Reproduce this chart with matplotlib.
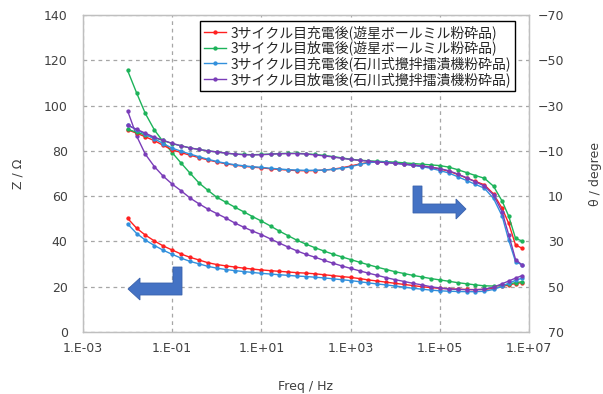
import math
import matplotlib
matplotlib.use("Agg")
import matplotlib.pyplot as plt
from matplotlib.patches import Polygon
from matplotlib.ticker import FixedLocator, FuncFormatter, NullLocator

# measurement frequencies (Hz)
freq = [0.01, 0.016, 0.025, 0.04, 0.063,
        0.1, 0.16, 0.25, 0.4, 0.63,
        1, 1.6, 2.5, 4, 6.3,
        10, 16, 25, 40, 63,
        100, 160, 250, 400, 630,
        1e3, 1.6e3, 2.5e3, 4e3, 6.3e3,
        1e4, 1.6e4, 2.5e4, 4e4, 6.3e4,
        1e5, 1.6e5, 2.5e5, 4e5, 6.3e5,
        1e6, 1.6e6, 2.5e6, 3.5e6, 5e6, 7e6]

labels = ["3サイクル目充電後(遊星ボールミル粉砕品)",
          "3サイクル目放電後(遊星ボールミル粉砕品)",
          "3サイクル目充電後(石川式攪拌擂潰機粉砕品)",
          "3サイクル目放電後(石川式攪拌擂潰機粉砕品)"]
colors = ["#ff2020", "#1db35a", "#3290dc", "#7a3db8"]

# |Z| in ohm
z_red = [50.2, 45.8, 42.8, 40.2, 38.0, 36.2, 34.4, 33.0, 31.8, 30.6,
         29.8, 29.2, 28.7, 28.2, 27.8, 27.4, 27.1, 26.8, 26.5, 26.2,
         26.0, 25.7, 25.3, 24.9, 24.5, 24.1, 23.6, 23.0, 22.5, 22.0,
         21.5, 21.0, 20.5, 20.0, 19.6, 19.3, 19.1, 18.9, 18.8, 18.7,
         18.8, 19.3, 20.1, 20.8, 21.4, 21.8]
z_green = [115.5, 105.5, 96.5, 89.2, 84.0, 79.2, 74.5, 70.2, 65.8, 62.6,
           59.5, 57.3, 55.2, 53.1, 51.0, 49.0, 46.8, 44.6, 42.5, 40.5,
           38.8, 37.2, 35.8, 34.4, 33.2, 32.0, 30.8, 29.7, 28.6, 27.6,
           26.6, 25.8, 25.0, 24.3, 23.6, 23.0, 22.4, 21.8, 21.3, 20.8,
           20.4, 20.3, 20.6, 21.2, 21.8, 22.2]
z_blue = [47.7, 43.5, 40.6, 38.2, 36.1, 34.3, 32.6, 31.2, 30.1, 29.0,
          28.2, 27.6, 27.1, 26.7, 26.3, 25.9, 25.6, 25.3, 25.0, 24.7,
          24.5, 24.2, 23.9, 23.5, 23.1, 22.7, 22.2, 21.7, 21.2, 20.8,
          20.3, 19.8, 19.3, 18.9, 18.5, 18.2, 18.0, 17.9, 17.8, 17.8,
          18.0, 18.8, 20.2, 21.5, 22.8, 23.8]
z_purple = [97.7, 86.5, 78.5, 73.0, 68.8, 65.3, 62.3, 59.2, 56.6, 54.3,
            52.3, 50.3, 48.2, 46.3, 44.6, 43.0, 41.1, 39.3, 37.5, 35.8,
            34.3, 33.0, 31.7, 30.4, 29.2, 28.1, 27.0, 26.0, 25.0, 24.0,
            23.1, 22.3, 21.5, 20.8, 20.0, 19.4, 19.0, 18.8, 18.7, 18.7,
            18.9, 19.8, 21.3, 22.5, 23.8, 24.9]

# phase angle in degree
th_red = [-19.3, -17.8, -16.2, -14.5, -12.4, -10.5, -9.2, -8.1, -7.0, -6.0,
          -5.1, -4.3, -3.7, -3.2, -2.8, -2.5, -2.1, -1.8, -1.5, -1.3,
          -1.2, -1.3, -1.5, -1.9, -2.5, -3.3, -4.2, -4.9, -5.2, -5.0,
          -4.7, -4.3, -3.8, -3.3, -2.7, -2.0, -1.0, 0.4, 2.0, 3.5,
          5.0, 9.0, 15.4, 22.0, 31.6, 33.0]
th_green = [-19.5, -18.2, -17.0, -15.8, -14.6, -13.2, -12.2, -11.3, -10.6, -10.0,
            -9.5, -9.0, -8.6, -8.4, -8.3, -8.4, -8.6, -8.8, -8.9, -8.9,
            -8.7, -8.4, -8.0, -7.5, -6.9, -6.3, -5.9, -5.6, -5.4, -5.2,
            -5.0, -4.7, -4.4, -4.1, -3.8, -3.5, -2.8, -1.7, -0.4, 0.9,
            2.1, 5.6, 12.2, 18.8, 28.7, 29.8]
th_blue = [-21.5, -19.3, -17.3, -15.3, -13.2, -11.2, -9.8, -8.6, -7.4, -6.3,
           -5.3, -4.5, -3.9, -3.4, -3.0, -2.7, -2.3, -2.0, -1.7, -1.5,
           -1.4, -1.4, -1.5, -1.8, -2.3, -3.0, -4.0, -4.8, -5.1, -4.9,
           -4.5, -4.1, -3.6, -3.0, -2.3, -1.3, -0.2, 1.4, 3.1, 4.8,
           6.5, 11.0, 18.8, 29.4, 39.0, 40.4]
th_purple = [-21.3, -19.5, -17.8, -16.0, -14.6, -13.3, -12.2, -11.3, -10.6, -10.0,
             -9.5, -9.0, -8.6, -8.3, -8.2, -8.3, -8.5, -8.7, -8.8, -8.8,
             -8.6, -8.2, -7.8, -7.3, -6.7, -6.2, -5.8, -5.4, -5.1, -4.8,
             -4.5, -4.1, -3.7, -3.3, -2.8, -2.2, -1.2, 0.2, 1.9, 3.7,
             5.5, 9.5, 17.0, 27.0, 38.0, 40.4]

z_all = [z_red, z_green, z_blue, z_purple]
th_all = [th_red, th_green, th_blue, th_purple]

fig = plt.figure(figsize=(6.03, 3.94), dpi=100)
ax = fig.add_axes([83 / 603, 1 - 332 / 394, 446 / 603, 317 / 394])
ax2 = ax.twinx()

lines = []
for z, th, c, lab in zip(z_all, th_all, colors, labels):
    l, = ax.plot(freq, z, color=c, lw=1.0, marker="o", ms=2.1, label=lab)
    ax2.plot(freq, th, color=c, lw=1.0, marker="o", ms=2.1)
    lines.append(l)

ax.set_xscale("log")
ax.set_xlim(1e-3, 1e7)
ax.set_ylim(0, 140)
ax2.set_ylim(70, -70)

ax.xaxis.set_major_locator(FixedLocator([1e-3, 1e-1, 1e1, 1e3, 1e5, 1e7]))
ax.xaxis.set_minor_locator(NullLocator())
ax.xaxis.set_major_formatter(FuncFormatter(
    lambda v, p: "1.E%+03d" % round(math.log10(v))))
ax.set_yticks(range(0, 141, 20))
ax2.set_yticks(range(-70, 71, 20))

ax.grid(True, color="#a6a6a6", ls=(0, (3, 3)), lw=0.9)
ax.set_axisbelow(True)

tick_col = "#404040"
ax.tick_params(axis="both", length=0, labelsize=9, colors=tick_col)
ax.tick_params(axis="y", pad=11)
ax.tick_params(axis="x", pad=7)
ax2.tick_params(axis="y", length=0, labelsize=9, colors=tick_col, pad=25)
for t in ax2.get_yticklabels():
    t.set_horizontalalignment("right")

for a in (ax, ax2):
    for s in a.spines.values():
        s.set_color("#bfbfbf")
        s.set_linewidth(0.9)

ax.set_ylabel("Z / Ω", fontsize=9, color=tick_col)
ax.yaxis.set_label_coords(-0.132, 0.5)
ax2.set_ylabel("θ / degree", fontsize=9, color=tick_col)
ax2.yaxis.set_label_coords(1.135, 0.5)
ax.set_xlabel("Freq / Hz", fontsize=9, color=tick_col)
ax.xaxis.set_label_coords(0.5, -0.151)

leg = ax2.legend(lines, labels, loc="upper right", bbox_to_anchor=(0.969, 0.981),
                 borderaxespad=0, fancybox=False, framealpha=1, edgecolor="black",
                 prop={"family": ["Noto Sans CJK JP", "DejaVu Sans"], "size": 10},
                 labelspacing=0.05, handlelength=1.6, handletextpad=0.3,
                 borderpad=0.3)
leg.get_frame().set_linewidth(1.0)
for t in leg.get_texts():
    t.set_color("#262626")


# blue L-shaped arrows (pixel outlines -> axes fraction)
def px(points):
    return [((x - 83) / 446, (332 - y) / 317) for x, y in points]


left_arrow = [(128, 289), (140, 278), (140, 283), (173, 283), (173, 267),
              (182, 267), (182, 295), (140, 295), (140, 300)]
right_arrow = [(413, 186), (422, 186), (422, 204), (456, 204), (456, 199),
               (466, 209), (456, 219), (456, 213), (413, 213)]
for shape in (left_arrow, right_arrow):
    ax2.add_patch(Polygon(px(shape), closed=True, transform=ax2.transAxes,
                          facecolor="#4472c4", edgecolor="#3a62ad", lw=0.6,
                          zorder=5))

fig.savefig("out.png", dpi=100)
